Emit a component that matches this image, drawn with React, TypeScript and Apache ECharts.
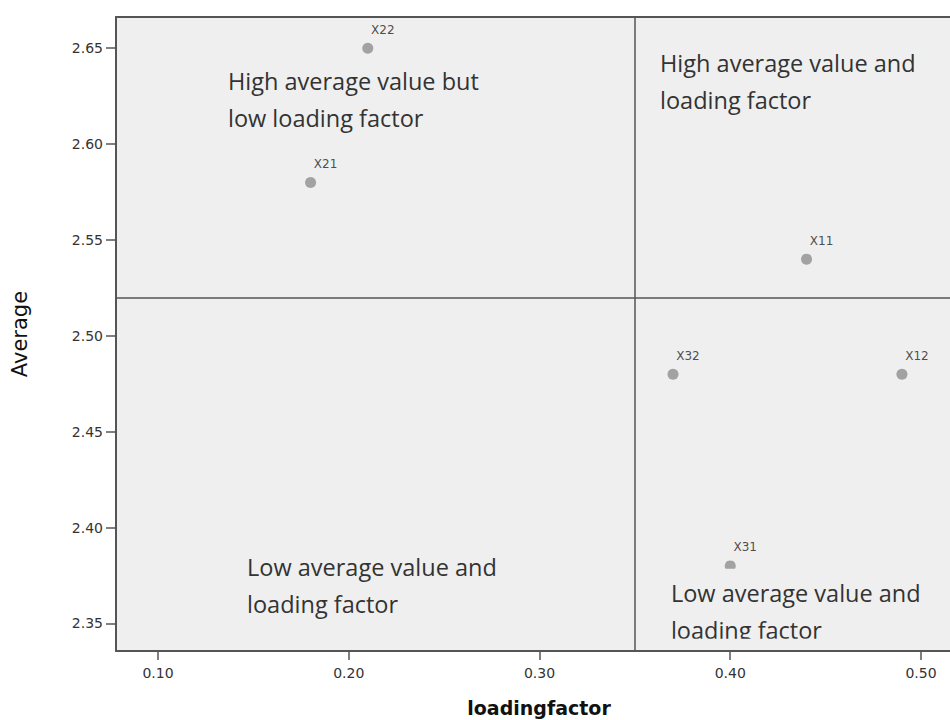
import React, { useEffect, useRef } from "react";
import * as echarts from "echarts";

// ---- data ----
const pointNames = ["X22", "X21", "X11", "X12", "X31", "X32"];
const loadingFactor = [0.21, 0.18, 0.44, 0.49, 0.40, 0.37];
const averageValue = [2.65, 2.58, 2.54, 2.48, 2.38, 2.48];

const xTicks = [0.1, 0.2, 0.3, 0.4, 0.5];
const yTicks = [2.35, 2.4, 2.45, 2.5, 2.55, 2.6, 2.65];
const xRange = [0.078, 0.5152];
const yRange = [2.3356, 2.6663];

const quadrantX = 0.35;
const quadrantY = 2.52;

const annotationTexts = [
  "High average value but\nlow loading factor",
  "High average value and\nloading factor",
  "Low average value and\nloading factor",
  "Low average value and\nloading factor",
];
const annotationX = [0.1367, 0.3632, 0.1467, 0.3689];
const annotationY = [2.6426, 2.6517, 2.3892, 2.3785];

const PLOT_BG = "#efefef";
const FRAME = "#555555";

export default function App() {
  const ref = useRef<HTMLDivElement>(null);

  useEffect(() => {
    document.body.style.margin = "0";
    const chart = echarts.init(ref.current!, null, { renderer: "svg" });

    const scatterData = loadingFactor.map((x, i) => ({
      name: pointNames[i],
      value: [x, averageValue[i]],
    }));

    const option: any = {
      animation: false,
      backgroundColor: "#ffffff",
      grid: {
        left: 116,
        top: 17,
        right: 0,
        bottom: 69,
        show: true,
        backgroundColor: PLOT_BG,
        borderWidth: 0,
        containLabel: false,
        outerBoundsMode: "none",
      },
      xAxis: [
        {
          type: "value",
          min: xRange[0],
          max: xRange[1],
          name: "loadingfactor",
          nameLocation: "middle",
          nameGap: 47,
          nameTextStyle: {
            fontFamily: "DejaVu Sans",
            fontWeight: "bold",
            fontSize: 19,
            color: "#111",
            padding: [0, 0, 0, 12],
          },
          axisLine: { show: true, lineStyle: { color: FRAME, width: 2 } },
          axisTick: {
            show: true,
            customValues: xTicks,
            length: 9,
            lineStyle: { color: FRAME, width: 1.5 },
          },
          axisLabel: {
            customValues: xTicks,
            formatter: (v: number) => v.toFixed(2),
            fontFamily: "DejaVu Sans",
            fontSize: 14,
            color: "#333",
            margin: 15,
          },
          splitLine: { show: false },
        },
        {
          type: "value",
          position: "top",
          min: xRange[0],
          max: xRange[1],
          axisLine: { show: true, lineStyle: { color: FRAME, width: 2 } },
          axisTick: { show: false },
          axisLabel: { show: false },
          splitLine: { show: false },
        },
      ],
      yAxis: {
        type: "value",
        min: yRange[0],
        max: yRange[1],
        name: "Average",
        nameLocation: "middle",
        nameGap: 86,
        nameTextStyle: {
          fontFamily: "DejaVu Sans",
          fontSize: 21,
          color: "#111",
        },
        axisLine: { show: true, lineStyle: { color: FRAME, width: 2 } },
        axisTick: {
          show: true,
          customValues: yTicks,
          length: 10,
          lineStyle: { color: FRAME, width: 1.5 },
        },
        axisLabel: {
          customValues: yTicks,
          formatter: (v: number) => v.toFixed(2),
          fontFamily: "DejaVu Sans",
          fontSize: 14,
          color: "#333",
          margin: 13,
        },
        splitLine: { show: false },
      },
      series: [
        {
          type: "scatter",
          xAxisIndex: 0,
          data: scatterData,
          symbolSize: 11,
          itemStyle: { color: "#8e8e8e" },
          z: 3,
          label: {
            show: true,
            formatter: (p: any) => p.name,
            position: "top",
            offset: [15, -2],
            fontFamily: "DejaVu Sans",
            fontSize: 12,
            color: "#222",
          },
          markLine: {
            silent: true,
            symbol: "none",
            label: { show: false },
            lineStyle: { color: FRAME, width: 1.5, type: "solid" },
            data: [{ xAxis: quadrantX }, { yAxis: quadrantY }],
          },
        },
        {
          type: "custom",
          coordinateSystem: "cartesian2d",
          xAxisIndex: 0,
          clip: true,
          z: 5,
          silent: true,
          data: annotationX.map((x, i) => [x, annotationY[i], i]),
          renderItem: (params: any, api: any) => {
            const p = api.coord([api.value(0), api.value(1)]);
            const i = api.value(2);
            const isBR = i === 3;
            const textEl: any = {
              type: "text",
              x: p[0],
              y: p[1],
              style: {
                text: annotationTexts[i],
                fontFamily: "Open Sans",
                fontSize: 23.5,
                lineHeight: 37,
                fill: "#333",
                align: "left",
                verticalAlign: "top",
                backgroundColor: isBR ? PLOT_BG : "transparent",
                padding: isBR ? [6, 6, 0, 0] : 0,
              },
            };
            if (!isBR) return textEl;
            const gridBottom = api.coord([xRange[0], yRange[0]])[1];
            const maskTop = p[1] + 70;
            return {
              type: "group",
              children: [
                textEl,
                {
                  type: "rect",
                  shape: {
                    x: p[0] - 4,
                    y: maskTop,
                    width: 275,
                    height: Math.max(0, gridBottom - 1.5 - maskTop),
                  },
                  style: { fill: PLOT_BG },
                },
              ],
            };
          },
        },
      ],
    };

    chart.setOption(option);
    return () => chart.dispose();
  }, []);

  return <div ref={ref} style={{ width: 950, height: 720 }} />;
}
